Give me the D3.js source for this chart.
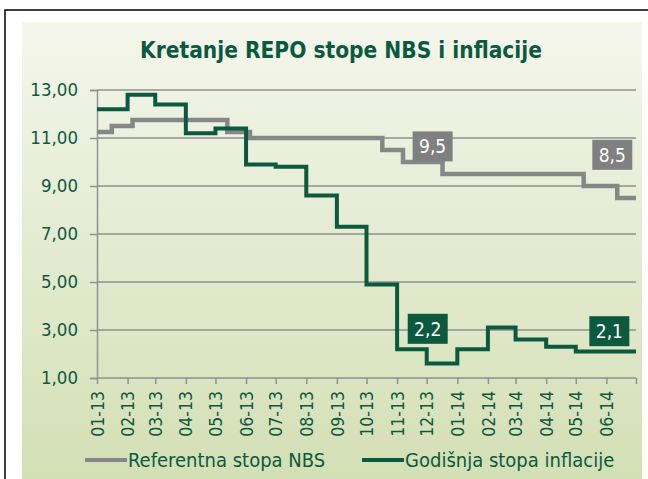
<!DOCTYPE html>
<html>
<head>
<meta charset="utf-8">
<script src="https://cdn.jsdelivr.net/npm/d3@7"></script>
<style>
  body { margin: 0; background: #fff; }
  svg { display: block; }
  text { font-family: "DejaVu Sans Condensed", "DejaVu Sans", sans-serif; }
</style>
</head>
<body>
<div id="chart"></div>
<script>
// month tick labels (mm-yy)
const months = ["01-13", "02-13", "03-13", "04-13", "05-13", "06-13", "07-13", "08-13", "09-13",
  "10-13", "11-13", "12-13", "01-14", "02-14", "03-14", "04-14", "05-14", "06-14"];

// NBS reference rate: dates of change and new level
const repoDates = ["2013-01-01", "2013-01-16", "2013-02-06", "2013-05-13", "2013-06-05",
  "2013-10-17", "2013-11-07", "2013-12-17", "2014-05-09", "2014-06-12"];
const repoValues = [11.25, 11.5, 11.75, 11.25, 11.0, 10.5, 10.0, 9.5, 9.0, 8.5];

// annual inflation, one value per month
const inflation = [12.2, 12.8, 12.4, 11.2, 11.4, 9.9, 9.8, 8.6, 7.3, 4.9, 2.2, 1.6,
  2.2, 3.1, 2.6, 2.3, 2.1, 2.1];

const yTicks = [1, 3, 5, 7, 9, 11, 13];

// value boxes on the lines
const repoLabels = [
  { date: "2013-12-07", value: 10.65, text: "9,5" },
  { date: "2014-06-07", value: 10.3, text: "8,5" }
];
const inflLabels = [
  { date: "2013-12-02", value: 3.05, text: "2,2" },
  { date: "2014-06-04", value: 2.95, text: "2,1" }
];

const width = 648, height = 479;
const green = "#0b5a3f", grey = "#878787", gridCol = "#919191";
const parse = d3.timeParse("%Y-%m-%d");
const parseMonth = d3.timeParse("%m-%y");

const svg = d3.select("#chart").append("svg")
  .attr("width", width).attr("height", height);

// background
const grad = svg.append("defs").append("linearGradient")
  .attr("id", "bg").attr("x1", 0).attr("y1", 0).attr("x2", 0).attr("y2", 1);
grad.append("stop").attr("offset", "0%").attr("stop-color", "#f4f6ec");
grad.append("stop").attr("offset", "100%").attr("stop-color", "#d3dfb4");

svg.append("rect").attr("x", 5).attr("y", 10).attr("width", 660).attr("height", 480)
  .attr("fill", "#fff").attr("stroke", "#000").attr("stroke-width", 1.5);
svg.append("rect").attr("x", 22).attr("y", 22).attr("width", 620).attr("height", 460)
  .attr("fill", "url(#bg)");

svg.append("text")
  .attr("x", 341).attr("y", 58)
  .attr("text-anchor", "middle")
  .attr("font-size", 22.5).attr("font-weight", "bold")
  .attr("fill", green)
  .text("Kretanje REPO stope NBS i inflacije");

const monthDates = months.map(m => parseMonth(m));
const endDate = d3.timeMonth.offset(monthDates[monthDates.length - 1], 1);

const x = d3.scaleTime().domain([monthDates[0], endDate]).range([97, 636]);
const y = d3.scaleLinear().domain([1, 13]).range([378, 90]);

// gridlines
svg.append("g")
  .selectAll("line")
  .data(yTicks.slice(1))
  .enter().append("line")
  .attr("x1", 97).attr("x2", 636)
  .attr("y1", d => y(d)).attr("y2", d => y(d))
  .attr("stroke", gridCol).attr("stroke-width", 1.5);

// y axis
const yAxis = svg.append("g")
  .attr("transform", "translate(97,0)")
  .call(d3.axisLeft(y).tickValues(yTicks).tickSize(7).tickPadding(12)
    .tickFormat(d => d3.format(".2f")(d).replace(".", ",")));
yAxis.select(".domain").attr("stroke", gridCol).attr("stroke-width", 1.5);
yAxis.selectAll(".tick line").attr("stroke", gridCol).attr("stroke-width", 1.5);
yAxis.selectAll("text").attr("font-size", 18.5).attr("fill", green)
  .attr("font-family", "DejaVu Sans Condensed");

// x axis
const xAxis = svg.append("g")
  .attr("transform", "translate(0,378)")
  .call(d3.axisBottom(x).tickValues(monthDates.concat([endDate])).tickSize(6)
    .tickFormat((d, i) => months[i] || ""));
xAxis.select(".domain").attr("stroke", gridCol).attr("stroke-width", 1.5)
  .attr("d", "M97,0H636");
xAxis.selectAll(".tick line").attr("stroke", gridCol).attr("stroke-width", 1.5);
xAxis.selectAll("text")
  .attr("font-size", 17.5).attr("fill", green)
  .attr("font-family", "DejaVu Sans Condensed")
  .attr("transform", "rotate(-90)")
  .attr("text-anchor", "end")
  .attr("x", -13).attr("y", 0).attr("dy", "0.35em");

// series
const repoData = repoDates.map((d, i) => ({ date: parse(d), value: repoValues[i] }));
repoData.push({ date: endDate, value: repoValues[repoValues.length - 1] });
const inflData = inflation.map((v, i) => ({ date: monthDates[i], value: v }));
inflData.push({ date: endDate, value: inflation[inflation.length - 1] });

const line = d3.line().curve(d3.curveStepAfter)
  .x(d => x(d.date)).y(d => y(d.value));

svg.append("path").datum(repoData)
  .attr("d", line).attr("fill", "none")
  .attr("stroke", grey).attr("stroke-width", 4.5);

svg.append("path").datum(inflData)
  .attr("d", line).attr("fill", "none")
  .attr("stroke", green).attr("stroke-width", 4);

// value boxes
function addLabels(list, color) {
  const g = svg.append("g").selectAll("g").data(list).enter().append("g")
    .attr("transform", d => `translate(${x(parse(d.date))},${y(d.value)})`);
  g.append("rect").attr("x", -20).attr("y", -15).attr("width", 40).attr("height", 30)
    .attr("fill", color);
  g.append("text").attr("text-anchor", "middle").attr("dy", "0.36em")
    .attr("font-size", 19).attr("fill", "#fff")
    .text(d => d.text);
}
addLabels(repoLabels, "#808080");
addLabels(inflLabels, "#0b5a3f");

// legend
const legend = [
  { name: "Referentna stopa NBS", color: grey, x: 85 },
  { name: "Godišnja stopa inflacije", color: green, x: 362 }
];
const lg = svg.append("g").selectAll("g").data(legend).enter().append("g")
  .attr("transform", d => `translate(${d.x},460)`);
lg.append("line").attr("x1", 0).attr("x2", 42)
  .attr("stroke", d => d.color).attr("stroke-width", 4);
lg.append("text").attr("x", 43).attr("dy", "0.35em")
  .attr("font-size", 20).attr("fill", green)
  .text(d => d.name);
</script>
</body>
</html>
